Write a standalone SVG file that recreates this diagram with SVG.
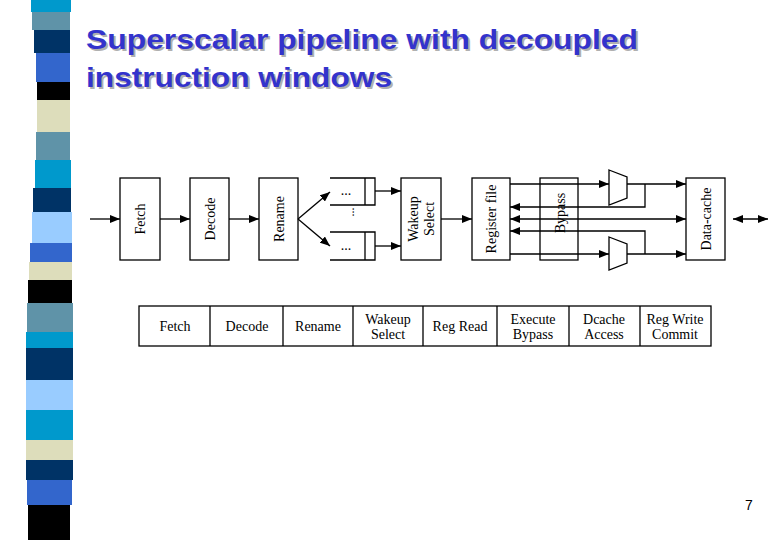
<svg xmlns="http://www.w3.org/2000/svg" width="780" height="540" viewBox="0 0 780 540">
<defs>
<marker id="a" markerWidth="10" markerHeight="8" refX="10" refY="4" orient="auto" markerUnits="userSpaceOnUse"><path d="M0,0 L10,4 L0,8 Z" fill="#000"/></marker>
<marker id="s" markerWidth="10" markerHeight="8" refX="0" refY="4" orient="auto" markerUnits="userSpaceOnUse"><path d="M10,0 L0,4 L10,8 Z" fill="#000"/></marker>
</defs>
<style>
.b{fill:#fff;stroke:#000;stroke-width:1.3}
.t{font-family:"Liberation Serif",serif;font-size:14px;fill:#000;text-anchor:middle}
.c{stroke:#000;stroke-width:1.3;fill:none}
.title{font-family:"Liberation Sans",Arial,sans-serif;font-size:28px;font-weight:bold;fill:#3333cc}
.sh{font-family:"Liberation Sans",Arial,sans-serif;font-size:28px;font-weight:bold;fill:#b0b0b0}
</style>
<rect width="780" height="540" fill="#fff"/>
<g id="stripes">
<rect x="31" y="0" width="40" height="12" fill="#0099cc"/>
<rect x="32" y="12" width="38" height="18" fill="#5f93a8"/>
<rect x="34" y="30" width="36" height="23" fill="#003366"/>
<rect x="36" y="53" width="34" height="29" fill="#3366cc"/>
<rect x="37" y="82" width="33" height="18" fill="#000"/>
<rect x="37" y="100" width="33" height="32" fill="#ddddbb"/>
<rect x="36" y="132" width="34" height="28" fill="#5f93a8"/>
<rect x="35" y="160" width="36" height="28" fill="#0099cc"/>
<rect x="33" y="188" width="38" height="24" fill="#003366"/>
<rect x="32" y="212" width="40" height="31" fill="#99ccff"/>
<rect x="30" y="243" width="42" height="19" fill="#3366cc"/>
<rect x="29" y="262" width="43" height="18" fill="#ddddbb"/>
<rect x="28" y="280" width="44" height="23" fill="#000"/>
<rect x="27" y="303" width="46" height="29" fill="#5f93a8"/>
<rect x="26" y="332" width="47" height="16" fill="#0099cc"/>
<rect x="26" y="348" width="47" height="32" fill="#003366"/>
<rect x="26" y="380" width="47" height="30" fill="#99ccff"/>
<rect x="26" y="410" width="47" height="30" fill="#0099cc"/>
<rect x="26" y="440" width="47" height="20" fill="#ddddbb"/>
<rect x="26" y="460" width="47" height="20" fill="#003366"/>
<rect x="27" y="480" width="45" height="25" fill="#3366cc"/>
<rect x="28" y="505" width="42" height="35" fill="#000"/>
</g>
<g id="title">
<text class="sh" x="88" y="51" textLength="552" lengthAdjust="spacingAndGlyphs">Superscalar pipeline with decoupled</text>
<text class="sh" x="88" y="89" textLength="306" lengthAdjust="spacingAndGlyphs">instruction windows</text>
<text class="title" x="86" y="49" textLength="552" lengthAdjust="spacingAndGlyphs">Superscalar pipeline with decoupled</text>
<text class="title" x="86" y="87" textLength="306" lengthAdjust="spacingAndGlyphs">instruction windows</text>
</g>
<g id="fetch"><rect class="b" x="120" y="178" width="40" height="82"/><text class="t" transform="translate(145,219) rotate(-90)">Fetch</text></g>
<g id="decode"><rect class="b" x="190" y="178" width="39" height="82"/><text class="t" transform="translate(215,219) rotate(-90)">Decode</text></g>
<g id="rename"><rect class="b" x="259" y="178" width="39" height="82"/><text class="t" transform="translate(284,219) rotate(-90)">Rename</text></g>
<g id="queue1"><path class="c" d="M330,178 H375 V205 H330 M365,178 V205"/><text class="t" x="346" y="195">...</text></g>
<g id="queue2"><path class="c" d="M330,232 H375 V260 H330 M365,232 V260"/><text class="t" x="346" y="250">...</text></g>
<text class="t" transform="translate(354,212) rotate(-90)" style="font-size:12px">...</text>
<g id="wakeup"><rect class="b" x="401" y="178" width="40" height="82"/><text class="t" transform="translate(418,219) rotate(-90)">Wakeup</text><text class="t" transform="translate(434,219) rotate(-90)">Select</text></g>
<g id="regfile"><rect class="b" x="472" y="178" width="38" height="82"/><text class="t" transform="translate(496,219) rotate(-90)">Register file</text></g>
<g id="bypass"><rect class="c" x="540" y="178" width="38" height="82"/><text class="t" transform="translate(565,213) rotate(-90)">Bypass</text></g>
<g id="mux1"><path class="b" d="M609,170 L627,177 V198 L609,205 Z"/></g>
<g id="mux2"><path class="b" d="M609,237 L627,244 V263 L609,270 Z"/></g>
<g id="dcache"><rect class="b" x="686" y="178" width="39" height="82"/><text class="t" transform="translate(711,219) rotate(-90)">Data-cache</text></g>
<g id="connectors">
<line class="c" x1="90" y1="219" x2="120" y2="219" marker-end="url(#a)"/>
<line class="c" x1="160" y1="219" x2="190" y2="219" marker-end="url(#a)"/>
<line class="c" x1="229" y1="219" x2="259" y2="219" marker-end="url(#a)"/>
<line class="c" x1="298" y1="219" x2="330" y2="192" marker-end="url(#a)"/>
<line class="c" x1="298" y1="219" x2="330" y2="246" marker-end="url(#a)"/>
<line class="c" x1="375" y1="191" x2="401" y2="191" marker-end="url(#a)"/>
<line class="c" x1="375" y1="246" x2="401" y2="246" marker-end="url(#a)"/>
<line class="c" x1="441" y1="219" x2="472" y2="219" marker-end="url(#a)"/>
<line class="c" x1="510" y1="184" x2="609" y2="184" marker-end="url(#a)"/>
<line class="c" x1="627" y1="184" x2="686" y2="184" marker-end="url(#a)"/>
<path class="c" d="M645,184 V207 H510" marker-end="url(#a)"/>
<line class="c" x1="510" y1="219" x2="686" y2="219" marker-start="url(#s)" marker-end="url(#a)"/>
<path class="c" d="M645,254 V231 H510" marker-end="url(#a)"/>
<line class="c" x1="510" y1="254" x2="609" y2="254" marker-end="url(#a)"/>
<line class="c" x1="627" y1="254" x2="686" y2="254" marker-end="url(#a)"/>
<line class="c" x1="733" y1="219" x2="768" y2="219" marker-start="url(#s)" marker-end="url(#a)"/>
</g>
<g id="stages">
<rect class="b" x="139" y="306" width="572" height="40"/>
<path class="c" d="M210,306V346M283,306V346M353,306V346M423,306V346M497,306V346M569,306V346M640,306V346"/>
<text class="t" x="175" y="331">Fetch</text>
<text class="t" x="247" y="331">Decode</text>
<text class="t" x="318" y="331">Rename</text>
<text class="t" x="388" y="324">Wakeup</text><text class="t" x="388" y="339">Select</text>
<text class="t" x="460" y="331">Reg Read</text>
<text class="t" x="533" y="324">Execute</text><text class="t" x="533" y="339">Bypass</text>
<text class="t" x="604" y="324">Dcache</text><text class="t" x="604" y="339">Access</text>
<text class="t" x="675" y="324">Reg Write</text><text class="t" x="675" y="339">Commit</text>
</g>
<text x="749" y="510" style="font-family:'Liberation Sans',sans-serif;font-size:14px" text-anchor="middle">7</text>
</svg>
